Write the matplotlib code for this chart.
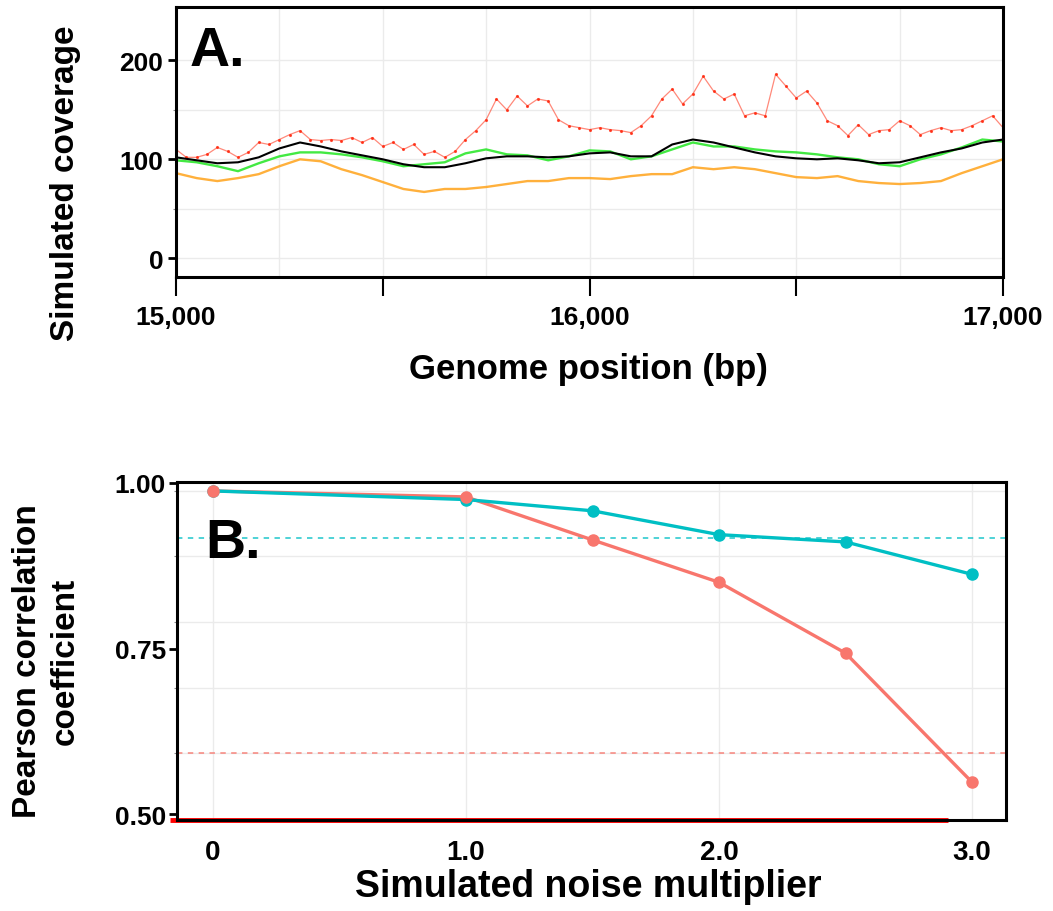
import numpy as np
import matplotlib.pyplot as plt
from matplotlib.ticker import FixedLocator, NullFormatter

# ---- Panel A: simulated coverage ----
pos50 = np.arange(15000, 17001, 50)
pos25 = np.arange(15000, 17001, 25)

expected_cov = [102, 99, 96, 97, 102, 111, 117, 113, 108, 104,
                100, 95, 92, 92, 96, 101, 103, 103, 102, 103,
                106, 107, 103, 103, 115, 120, 117, 112, 107, 103,
                101, 100, 101, 99, 96, 97, 102, 107, 111, 117, 120]
green_cov = [99, 97, 93, 88, 96, 103, 107, 107, 105, 102,
             98, 93, 95, 97, 106, 110, 105, 104, 99, 103,
             109, 108, 100, 103, 110, 117, 113, 113, 110, 108,
             107, 105, 102, 100, 95, 93, 100, 105, 112, 120, 118]
orange_cov = [86, 81, 78, 81, 85, 93, 100, 98, 90, 84,
              77, 70, 67, 70, 70, 72, 75, 78, 78, 81,
              81, 80, 83, 85, 85, 92, 90, 92, 90, 86,
              82, 81, 83, 78, 76, 75, 76, 78, 86, 93, 100]
red_cov = [110, 102, 102, 105, 112, 108, 102, 107, 117, 115,
           120, 125, 129, 120, 119, 120, 119, 122, 117, 122,
           113, 117, 110, 115, 105, 108, 102, 108, 120, 129,
           140, 161, 150, 164, 154, 161, 159, 140, 134, 132,
           130, 132, 130, 129, 127, 134, 144, 161, 171, 156,
           166, 184, 169, 161, 166, 144, 147, 144, 186, 174,
           162, 169, 157, 139, 134, 124, 135, 125, 129, 130,
           139, 134, 125, 129, 132, 129, 130, 134, 139, 144, 132]

# ---- Panel B: correlation vs noise ----
noise = [0, 1.0, 1.5, 2.0, 2.5, 3.0]
r_red = [0.988, 0.979, 0.914, 0.850, 0.743, 0.548]
r_cyan = [0.988, 0.975, 0.958, 0.922, 0.911, 0.862]
cut_cyan = 0.917
cut_red = 0.592

W, H = 1053, 912
plt.rcParams['font.family'] = ['Liberation Sans', 'DejaVu Sans']
plt.rcParams['font.weight'] = 'bold'


def fx(px):
    return px / W


def fy(py):
    return 1 - py / H


fig = plt.figure(figsize=(W / 100, H / 100), dpi=100)

# ================= A =================
axA = fig.add_axes([fx(176), fy(278), fx(1003) - fx(176), fy(8) - fy(278)])
axA.plot(pos25, red_cov, color='#ff3b22', lw=0.9, alpha=0.6)
axA.plot(pos25, red_cov, color='#ff2a10', ls='none', marker='.', ms=2.5, alpha=0.8)
axA.plot(pos50, orange_cov, color='#ffa31a', lw=1.7, alpha=0.85)
axA.plot(pos50, green_cov, color='#22e622', lw=1.7, alpha=0.85)
axA.plot(pos50, expected_cov, color='black', lw=1.5)

axA.set_xlim(15000, 17000)
axA.set_ylim(-19, 254)
axA.set_xticks([15000, 15500, 16000, 16500, 17000])
axA.set_xticklabels(['15,000', '', '16,000', '', '17,000'])
axA.set_yticks([0, 100, 200])
axA.xaxis.set_minor_locator(FixedLocator(np.arange(15000, 17001, 250)))
axA.yaxis.set_minor_locator(FixedLocator([50, 150]))
axA.grid(True, which='both', color='#ebebeb', lw=1)
axA.set_axisbelow(True)
axA.tick_params(axis='x', which='major', length=14, width=1.5, pad=6, labelsize=19)
axA.tick_params(axis='x', which='minor', length=0)
axA.tick_params(axis='y', which='major', length=6, width=2, pad=3, labelsize=19)
axA.tick_params(axis='y', which='minor', length=2, width=0.8, color='#888888')
for sp in axA.spines.values():
    sp.set_linewidth(2.2)

fig.text(fx(190), fy(66), 'A.', fontsize=40, fontweight='bold', ha='left', va='baseline')
fig.text(fx(66), fy(183), 'Simulated coverage', rotation=90, fontsize=24,
         fontweight='bold', ha='center', va='center')
fig.text(fx(588), fy(370), 'Genome position (bp)', fontsize=25, fontweight='bold',
         ha='center', va='center')

# ================= B =================
axB = fig.add_axes([fx(177), fy(821), fx(1006) - fx(177), fy(483) - fy(821)])
axB.axhline(cut_cyan, color='#00bfc4', lw=1.3, ls=(0, (3, 3)), alpha=0.75)
axB.axhline(cut_red, color='#f8766d', lw=1.3, ls=(0, (3, 3)), alpha=0.75)
axB.plot(noise, r_red, color='#f8766d', lw=2.4)
axB.plot(noise, r_cyan, color='#00bfc4', lw=2.4)
axB.plot(noise, r_cyan, ls='none', marker='o', ms=8, color='#00bfc4')
axB.plot(noise, r_red, ls='none', marker='o', ms=8, color='#f8766d')

axB.set_xlim(-0.142, 3.134)
axB.set_ylim(0.491, 1.0015)
axB.set_xticks([0, 1, 2, 3])
axB.set_xticklabels(['0', '1.0', '2.0', '3.0'])
axB.set_yticks([0.5, 0.75, 1.0])
axB.set_yticklabels(['0.50', '0.75', '1.00'])
axB.yaxis.set_minor_locator(FixedLocator([0.592, 0.691, 0.790, 0.889, 0.988]))
axB.yaxis.set_minor_formatter(NullFormatter())
axB.grid(True, axis='x', which='major', color='#ebebeb', lw=1)
axB.grid(True, axis='y', which='minor', color='#ebebeb', lw=1)
axB.set_axisbelow(True)
axB.tick_params(axis='x', length=0, pad=14, labelsize=20)
axB.tick_params(axis='y', which='major', length=6, width=2, pad=2, labelsize=19)
axB.tick_params(axis='y', which='minor', length=2, width=0.8, color='#888888')
for sp in axB.spines.values():
    sp.set_linewidth(2.2)
# red rule along the bottom of panel B
axB.plot([-0.008, 0.93], [0, 0], transform=axB.transAxes, color='red', lw=3.5,
         clip_on=False, solid_capstyle='butt')

fig.text(fx(205), fy(558), 'B.', fontsize=40, fontweight='bold', ha='left', va='baseline')
fig.text(fx(46), fy(661), 'Pearson correlation\ncoefficient', rotation=90, fontsize=24,
         fontweight='bold', ha='center', va='center', multialignment='center',
         linespacing=1.28)
fig.text(fx(588), fy(887), 'Simulated noise multiplier', fontsize=27, fontweight='bold',
         ha='center', va='center')

fig.savefig('out.png', dpi=100)
